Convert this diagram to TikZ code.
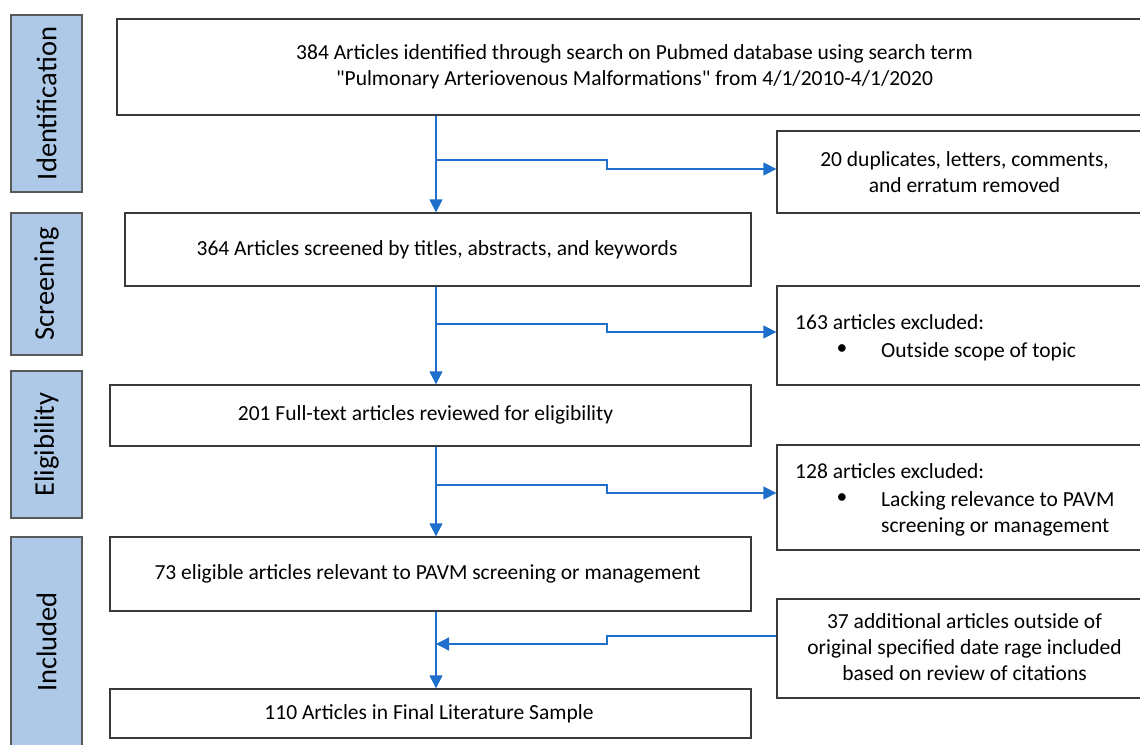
\documentclass[tikz,border=0pt]{standalone}
\usepackage{fontspec}
\setmainfont{Carlito}
\usetikzlibrary{arrows.meta,calc}
\definecolor{lblfill}{HTML}{AEC9E7}
\definecolor{lbldraw}{HTML}{595959}
\definecolor{boxdraw}{HTML}{3A3A3A}
\definecolor{arrblue}{HTML}{1D6FCB}
\begin{document}
\begin{tikzpicture}[x=1pt,y=-1pt,
  stagebox/.style={draw=lbldraw,fill=lblfill,line width=1.3pt,inner sep=0pt},
  stagetext/.style={rotate=90,font=\fontsize{28.5}{34}\selectfont,text=black},
  mainbox/.style={draw=boxdraw,line width=1.3pt,inner sep=0pt},
  txt/.style={font=\fontsize{21.5}{26}\selectfont,inner sep=0pt},
  arr/.style={draw=arrblue,line width=1.3pt,-{Triangle[length=13pt,width=13pt]}}]
\useasboundingbox (0,0) rectangle (1140,744);
% stage labels
\node[stagebox,minimum width=71pt,minimum height=177pt] (sid) at (46.5,103.5) {};
\node[stagetext] (tid) at (sid.center) {Identification};
\node[stagebox,minimum width=71pt,minimum height=142pt] (ssc) at (46.5,284) {};
\node[stagetext] (tsc) at (ssc.center) {Screening};
\node[stagebox,minimum width=71pt,minimum height=147pt] (sel) at (46.5,444.5) {};
\node[stagetext] (tel) at (sel.center) {Eligibility};
\node[stagebox,minimum width=71pt,minimum height=220pt] (sin) at (46.5,647) {};
\node[stagetext] (tin) at (46.5,642) {Included};
% main boxes
\node[mainbox,minimum width=1036pt,minimum height=96pt] (b1) at (635,67) {};
\node[txt,align=center] (t1) at (634.5,67) {384 Articles identified through search on Pubmed database using search term\\\textquotedbl Pulmonary Arteriovenous Malformations\textquotedbl{} from 4/1/2010-4/1/2020};
\node[mainbox,minimum width=626pt,minimum height=73pt] (b2) at (438,249.5) {};
\node[txt] (t2) at (437,250) {364 Articles screened by titles, abstracts, and keywords};
\node[mainbox,minimum width=641pt,minimum height=61pt] (b3) at (430.5,415.5) {};
\node[txt] (t3) at (425.5,415) {201 Full-text articles reviewed for eligibility};
\node[mainbox,minimum width=641pt,minimum height=74pt] (b4) at (430.5,574) {};
\node[txt] (t4) at (427.5,574) {73 eligible articles relevant to PAVM screening or management};
\node[mainbox,minimum width=641pt,minimum height=49pt] (b5) at (430.5,713.5) {};
\node[txt] (t5) at (429,714) {110 Articles in Final Literature Sample};
% right boxes
\node[mainbox,minimum width=376pt,minimum height=82pt] (r1) at (965,172) {};
\node[txt,align=center] (u1) at (964.5,172.5) {20 duplicates, letters, comments,\\and erratum removed};
\node[mainbox,minimum width=376pt,minimum height=99pt] (r2) at (965,335.5) {};
\node[txt,anchor=base west] (u2a) at (795,329) {163 articles excluded:};
\node[txt] (u2d) at (842,350) {\textbullet};
\node[txt,anchor=base west] (u2b) at (881,357) {Outside scope of topic};
\node[mainbox,minimum width=376pt,minimum height=105pt] (r3) at (965,497.5) {};
\node[txt,anchor=base west] (u3a) at (795,478) {128 articles excluded:};
\node[txt] (u3d) at (842,499) {\textbullet};
\node[txt,anchor=base west] (u3b) at (881,506) {Lacking relevance to PAVM};
\node[txt,anchor=base west] (u3c) at (881,532) {screening or management};
\node[mainbox,minimum width=376pt,minimum height=99pt] (r4) at (965,648.5) {};
\node[txt,align=center] (u4) at (964.5,647) {37 additional articles outside of\\original specified date rage included\\based on review of citations};
% connectors
\coordinate (col) at (436,0);
\coordinate (stepx) at (607,0);
\draw[arr] (col |- b1.south) -- (col |- b2.north);
\draw[arr] (col |- b2.south) -- (col |- b3.north);
\draw[arr] (col |- b3.south) -- (col |- b4.north);
\draw[arr] (col |- b4.south) -- (col |- b5.north);
\coordinate (j1) at (436,160);
\coordinate (j2) at (436,324);
\coordinate (j3) at (436,485);
\coordinate (j4) at (436,644);
\draw[arr] (j1) -- (stepx |- j1) -- (stepx |- 0,169) -- (r1.west |- 0,169);
\draw[arr] (j2) -- (stepx |- j2) -- (stepx |- 0,332) -- (r2.west |- 0,332);
\draw[arr] (j3) -- (stepx |- j3) -- (stepx |- 0,493) -- (r3.west |- 0,493);
\draw[arr] (r4.west |- 0,636) -- (stepx |- 0,636) -- (stepx |- j4) -- (j4);
\end{tikzpicture}
\end{document}
